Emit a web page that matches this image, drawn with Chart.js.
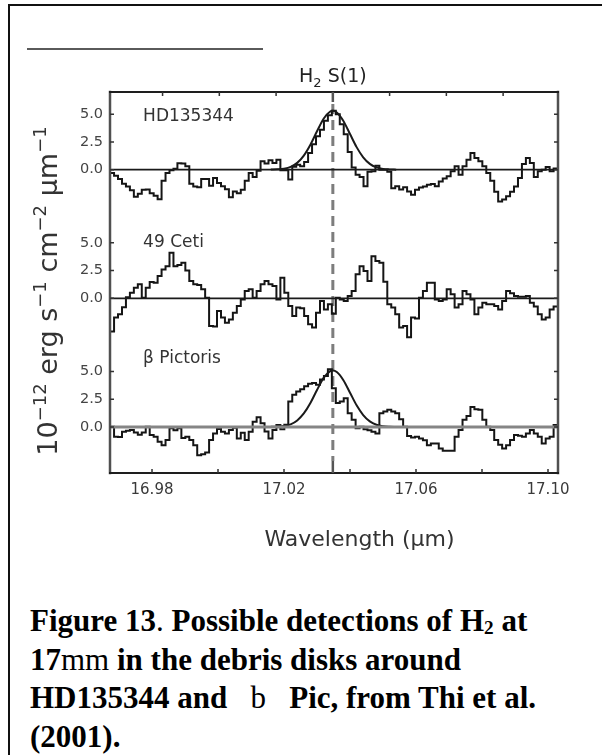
<!DOCTYPE html>
<html>
<head>
<meta charset="utf-8">
<script src="https://cdn.jsdelivr.net/npm/chart.js@4.4.1/dist/chart.umd.min.js"></script>
<style>
  html, body { margin: 0; padding: 0; background: #fff; }
  body { width: 602px; height: 755px; position: relative; overflow: hidden; }
  #frameTop { position: absolute; left: 9px; top: 4px; width: 593px; height: 2px; background: #111; }
  #frameLeft { position: absolute; left: 8px; top: 4px; width: 2px; height: 751px; background: #111; }
  #rule { position: absolute; left: 27px; top: 48px; width: 236px; height: 2px; background: #5a5a5a; }
  #wrap { position: absolute; left: 0; top: 0; width: 602px; height: 580px; }
  #caption {
    position: absolute; left: 30px; top: 602px;
    font-family: "Liberation Serif", "Times New Roman", serif;
    font-weight: bold; font-size: 31px; line-height: 38.5px; color: #000; white-space: nowrap;
  }
  #caption .n { font-weight: normal; }
  #caption sub { font-size: 0.62em; vertical-align: -0.18em; line-height: 0; }
</style>
</head>
<body>
<div id="frameTop"></div>
<div id="frameLeft"></div>
<div id="rule"></div>
<div id="wrap"><canvas id="spectra"></canvas></div>
<div id="caption">Figure 13<span class="n">.</span> Possible detections of H<sub>2</sub> at<br>17<span class="n">mm</span> in the debris disks around<br>HD135344 and&nbsp;&nbsp; <span class="n">b</span>&nbsp;&nbsp; Pic, from Thi et al.<br>(2001).</div>

<script>
// Wavelength grid of the spectra (µm)
const wavelength = [
  16.9673, 16.9685, 16.9697, 16.9709, 16.9721, 16.9733, 16.9745, 16.9757, 16.9769, 16.9781,
  16.9793, 16.9805, 16.9817, 16.9829, 16.9841, 16.9853, 16.9865, 16.9877, 16.9889, 16.9901,
  16.9913, 16.9925, 16.9937, 16.9949, 16.9961, 16.9973, 16.9985, 16.9997, 17.0009, 17.0021,
  17.0033, 17.0045, 17.0057, 17.0069, 17.0081, 17.0093, 17.0105, 17.0117, 17.0129, 17.0141,
  17.0153, 17.0165, 17.0177, 17.0189, 17.0201, 17.0213, 17.0225, 17.0237, 17.0249, 17.0261,
  17.0273, 17.0285, 17.0297, 17.0309, 17.0321, 17.0333, 17.0345, 17.0357, 17.0369, 17.0381,
  17.0393, 17.0405, 17.0417, 17.0429, 17.0441, 17.0453, 17.0465, 17.0477, 17.0489, 17.0501,
  17.0513, 17.0525, 17.0537, 17.0549, 17.0561, 17.0573, 17.0585, 17.0597, 17.0609, 17.0621,
  17.0633, 17.0645, 17.0657, 17.0669, 17.0681, 17.0693, 17.0705, 17.0717, 17.0729, 17.0741,
  17.0753, 17.0765, 17.0777, 17.0789, 17.0801, 17.0813, 17.0825, 17.0837, 17.0849, 17.0861,
  17.0873, 17.0885, 17.0897, 17.0909, 17.0921, 17.0933, 17.0945, 17.0957, 17.0969, 17.0981,
  17.0993, 17.1005, 17.1017, 17.1029
];

// Flux density, 10^-12 erg s^-1 cm^-2 µm^-1
const fluxHD135344 = [
  -0.30, -0.55, -0.85, -1.27, -1.52, -1.85, -2.45, -2.18, -1.82, -1.80,
  -2.12, -2.36, -2.67, -1.00, -0.30, -0.05, 0.08, 0.58, 0.55, 0.30,
  -1.27, -1.52, -1.58, -0.85, -0.85, -1.45, -0.76, -1.21, -1.50, -1.76,
  -2.48, -1.97, -2.12, -1.82, -1.00, -0.30, -0.67, -0.10, 0.76, 0.55,
  0.85, 0.60, 0.90, -0.05, -0.05, -0.90, 0.25, 0.45, 0.30, 0.70,
  1.50, 2.30, 3.00, 3.60, 4.40, 4.90, 5.30, 5.00, 4.10, 3.20,
  1.60, 0.20, -0.45, -0.67, -1.50, -0.20, -0.15, 0.36, 0.00, 0.00,
  -0.20, -1.67, -1.50, -1.80, -1.58, -1.97, -2.27, -1.82, -1.60, -1.52,
  -1.36, -1.30, -1.50, -1.06, -0.80, -0.60, -0.15, 0.30, -0.45, 0.30,
  0.90, 1.50, 1.06, 0.76, 0.30, -0.30, -1.00, -2.00, -2.88, -2.70,
  -2.40, -2.00, -1.52, -0.76, 0.50, 1.06, 0.60, -0.67, -0.15, 0.00,
  0.24, -0.15, 0.10, 0.10
];

const flux49Ceti = [
  -3.00, -1.74, -1.44, -0.80, 0.10, 0.50, 0.96, 1.26, 0.05, 0.96,
  1.47, 1.40, 2.00, 2.60, 2.90, 4.10, 2.90, 3.00, 3.20, 2.50,
  1.56, 1.26, 1.20, 0.81, 0.06, -2.50, -2.55, -1.14, -1.74, -2.20,
  -1.90, -1.30, -0.70, -0.10, 0.66, 0.81, 0.06, 0.66, 1.26, 1.56,
  1.26, 1.10, -0.10, 1.86, 0.50, -0.70, -1.60, -0.84, -0.90, -1.60,
  -2.34, -2.64, -1.30, -0.24, -1.00, -0.54, -1.40, 0.06, -0.10, -0.24,
  0.20, 0.66, 2.16, 2.90, 2.46, 1.56, 3.80, 3.36, 3.20, 1.50,
  -0.54, -0.84, -1.44, -2.64, -2.50, -3.50, -1.74, -1.83, 0.06, 0.66,
  1.41, 1.41, -0.10, -0.24, -0.10, 0.81, 0.36, -0.84, -0.54, 0.66,
  0.36, -0.10, -1.44, -0.84, -0.40, -0.54, -0.54, -0.70, -1.00, -0.24,
  0.66, 0.45, 0.20, 0.15, 0.15, 0.20, -0.40, -0.75, -1.44, -1.90,
  -1.74, -1.00, -0.75, -0.75
];

const fluxBetaPic = [
  0.03, -0.88, -0.90, -0.42, -0.35, -0.27, -0.50, -0.70, -0.50, 0.03,
  -0.73, -0.88, -1.33, -1.64, -1.18, -0.12, -0.30, -0.12, -1.00, -0.88,
  -1.18, -1.64, -2.55, -2.45, -2.30, -1.18, -0.58, -0.18, -0.42, -0.58,
  -0.27, -0.06, -1.03, -0.52, -1.18, -0.42, 0.48, 0.88, 0.33, -0.40,
  -1.03, -0.27, 0.18, -0.21, 0.20, 2.30, 2.90, 3.20, 3.40, 3.67,
  3.90, 3.97, 3.80, 4.27, 4.60, 5.20, 3.50, 2.15, 2.30, 2.60,
  1.24, 0.64, -0.12, 0.03, -0.20, -0.30, -0.42, -0.58, 1.24, 1.40,
  1.55, 1.40, 1.24, 0.70, 0.03, -0.82, -0.94, -0.88, -1.03, -1.20,
  -1.64, -1.50, -1.48, -1.94, -2.15, -2.15, -2.15, -0.88, -0.27, 0.64,
  1.00, 1.79, 1.60, 1.55, 0.64, 0.03, -0.27, -1.18, -1.60, -1.94,
  -1.64, -1.18, -0.73, -0.80, -0.88, -0.58, -0.27, -0.58, -0.88, -1.48,
  -1.03, -0.88, 0.18, 0.18
];

// Gaussian line fits
const fitWavelength = [
  17.016, 17.018, 17.020, 17.022, 17.024, 17.026, 17.028, 17.030, 17.032, 17.034,
  17.0348, 17.036, 17.038, 17.040, 17.042, 17.044, 17.046, 17.048, 17.050, 17.052, 17.054
];
const fitHD135344 = [
  0.01, 0.03, 0.09, 0.25, 0.61, 1.27, 2.25, 3.46, 4.59, 5.24,
  5.30, 5.16, 4.39, 3.21, 2.03, 1.11, 0.52, 0.21, 0.07, 0.02, 0.00
];
const fitBetaPic = [
  0.01, 0.03, 0.09, 0.24, 0.59, 1.22, 2.16, 3.33, 4.42, 5.04,
  5.10, 4.96, 4.22, 3.09, 1.95, 1.07, 0.50, 0.20, 0.07, 0.02, 0.00
];

// Panels (top to bottom) and their vertical offsets on the shared axis
const panelNames = ['HD135344', '49 Ceti', 'β Pictoris'];
const panelOffsets = [23.2, 11.6, 0];
const panelLabelLift = [4.8, 5.0, 6.2];

const yTickValues = [0, 2.5, 5];
const xTickValues = [16.98, 17.00, 17.02, 17.04, 17.06, 17.08, 17.10];
const xTickLabels = ['16.98', '', '17.02', '', '17.06', '', '17.10'];
const topTickValues = [16.9832, 17.0004, 17.0176, 17.0520, 17.0692, 17.0864];
const lineCentre = 17.0348;   // H2 S(1)
const xRange = [16.96727, 17.10303];
const yRange = [-4.15, 30.2];

const FONT = '"DejaVu Sans", "Liberation Sans", sans-serif';

const shifted = (xs, ys, off) => xs.map((w, i) => ({ x: w, y: ys[i] + off }));
const flat = off => [{ x: xRange[0], y: off }, { x: xRange[1], y: off }];

const allYTicks = [];
panelOffsets.forEach(off => yTickValues.forEach(v => allYTicks.push({ off, v })));

const datasets = [
  { data: flat(panelOffsets[0]), borderColor: '#1a1a1a', borderWidth: 1.7 },
  { data: flat(panelOffsets[1]), borderColor: '#1a1a1a', borderWidth: 1.7 },
  { data: flat(panelOffsets[2]), borderColor: '#858585', borderWidth: 3 },
  { data: shifted(fitWavelength, fitHD135344, panelOffsets[0]), borderColor: '#1a1a1a', borderWidth: 2, cubicInterpolationMode: 'monotone' },
  { data: shifted(fitWavelength, fitBetaPic, panelOffsets[2]), borderColor: '#1a1a1a', borderWidth: 2, cubicInterpolationMode: 'monotone' },
  { data: shifted(wavelength, fluxHD135344, panelOffsets[0]), borderColor: '#151515', borderWidth: 2, stepped: true },
  { data: shifted(wavelength, flux49Ceti, panelOffsets[1]), borderColor: '#151515', borderWidth: 2, stepped: true },
  { data: shifted(wavelength, fluxBetaPic, panelOffsets[2]), borderColor: '#151515', borderWidth: 2, stepped: true }
].map(d => Object.assign({ pointRadius: 0, fill: false, parsing: false }, d));

// Draws a run of text pieces, some raised or lowered, centred on x = 0 of the current transform
function drawRuns(ctx, runs, baseY) {
  let total = 0;
  runs.forEach(r => { ctx.font = r.size + 'px ' + FONT; r.w = ctx.measureText(r.t).width; total += r.w; });
  let cx = -total / 2;
  runs.forEach(r => {
    ctx.font = r.size + 'px ' + FONT;
    ctx.fillText(r.t, cx, baseY + (r.dy || 0));
    cx += r.w;
  });
}

const decor = {
  id: 'decor',
  beforeDatasetsDraw(chart) {
    const { ctx, chartArea: a, scales: { x } } = chart;
    const lx = x.getPixelForValue(lineCentre);
    ctx.save();
    ctx.strokeStyle = '#7d7d7d';
    ctx.lineWidth = 3;
    ctx.setLineDash([10, 6]);
    ctx.beginPath();
    ctx.moveTo(lx, a.top + 12);
    ctx.lineTo(lx, a.bottom - 12);
    ctx.stroke();
    ctx.restore();
  },
  afterDatasetsDraw(chart) {
    const { ctx, chartArea: a, scales: { x, y } } = chart;
    const lx = x.getPixelForValue(lineCentre);
    ctx.save();

    // axes box
    ctx.lineCap = 'square';
    ctx.strokeStyle = '#505050';
    ctx.lineWidth = 2.5;
    ctx.beginPath();
    ctx.moveTo(a.left, a.top); ctx.lineTo(a.left, a.bottom);
    ctx.moveTo(a.right, a.top); ctx.lineTo(a.right, a.bottom);
    ctx.stroke();
    ctx.strokeStyle = '#1e1e1e';
    ctx.lineWidth = 2;
    ctx.beginPath();
    ctx.moveTo(a.left, a.top); ctx.lineTo(a.right, a.top);
    ctx.moveTo(a.left, a.bottom); ctx.lineTo(a.right, a.bottom);
    ctx.stroke();

    // inward tick marks
    ctx.lineCap = 'butt';
    ctx.lineWidth = 1.5;
    ctx.strokeStyle = '#333';
    ctx.beginPath();
    xTickValues.forEach(v => {
      const px = x.getPixelForValue(v);
      ctx.moveTo(px, a.bottom); ctx.lineTo(px, a.bottom - 4);
    });
    topTickValues.forEach(v => {
      const px = x.getPixelForValue(v);
      ctx.moveTo(px, a.top); ctx.lineTo(px, a.top + 4);
    });
    allYTicks.forEach(t => {
      const py = y.getPixelForValue(t.off + t.v);
      ctx.moveTo(a.left, py); ctx.lineTo(a.left + 4, py);
      ctx.moveTo(a.right, py); ctx.lineTo(a.right - 4, py);
    });
    ctx.stroke();
    ctx.strokeStyle = '#555';
    ctx.lineWidth = 2.5;
    ctx.beginPath();
    ctx.moveTo(lx, a.top); ctx.lineTo(lx, a.top + 10);
    ctx.moveTo(lx, a.bottom); ctx.lineTo(lx, a.bottom - 12);
    ctx.stroke();

    // panel names
    ctx.fillStyle = '#333';
    ctx.textBaseline = 'middle';
    ctx.textAlign = 'left';
    ctx.font = '17px ' + FONT;
    panelNames.forEach((name, i) => {
      ctx.fillText(name, x.getPixelForValue(16.9773), y.getPixelForValue(panelOffsets[i] + panelLabelLift[i]));
    });

    // line identification above the box
    ctx.textBaseline = 'alphabetic';
    ctx.fillStyle = '#222';
    ctx.save();
    ctx.translate(lx, 0);
    drawRuns(ctx, [
      { t: 'H', size: 19 },
      { t: '2', size: 13, dy: 5 },
      { t: ' S(1)', size: 19 }
    ], 82);
    ctx.restore();

    // x-axis title
    ctx.fillStyle = '#333';
    ctx.save();
    ctx.translate(359.5, 0);
    drawRuns(ctx, [{ t: 'Wavelength (µm)', size: 22 }], 546);
    ctx.restore();

    // y-axis title, rotated
    ctx.save();
    ctx.translate(47, 291);
    ctx.rotate(-Math.PI / 2);
    drawRuns(ctx, [
      { t: '10', size: 27 },
      { t: '−12', size: 18, dy: -11 },
      { t: ' erg s', size: 27 },
      { t: '−1', size: 18, dy: -11 },
      { t: ' cm', size: 27 },
      { t: '−2', size: 18, dy: -11 },
      { t: ' µm', size: 27 },
      { t: '−1', size: 18, dy: -11 }
    ], 10);
    ctx.restore();

    ctx.restore();
  }
};

new Chart(document.getElementById('spectra'), {
  type: 'line',
  data: { datasets },
  options: {
    responsive: true,
    maintainAspectRatio: false,
    animation: false,
    devicePixelRatio: 1,
    layout: { padding: { top: 92, right: 44, left: 0, bottom: 0 } },
    plugins: { legend: { display: false }, tooltip: { enabled: false } },
    scales: {
      x: {
        type: 'linear',
        min: xRange[0],
        max: xRange[1],
        grid: { display: false, drawTicks: false },
        border: { display: false },
        afterBuildTicks: s => { s.ticks = xTickValues.map(v => ({ value: v })); },
        afterFit: s => { s.height = 107; },
        ticks: {
          autoSkip: false,
          maxRotation: 0,
          padding: 8,
          color: '#3a3a3a',
          font: { family: FONT, size: 15 },
          callback: (v, i) => xTickLabels[i]
        }
      },
      y: {
        type: 'linear',
        min: yRange[0],
        max: yRange[1],
        grid: { display: false, drawTicks: false },
        border: { display: false },
        afterBuildTicks: s => { s.ticks = allYTicks.map(t => ({ value: t.off + t.v })); },
        afterFit: s => { s.width = 110; },
        ticks: {
          autoSkip: false,
          padding: 7,
          color: '#444',
          font: { family: FONT, size: 14.5 },
          callback: (v, i) => allYTicks[i].v.toFixed(1)
        }
      }
    }
  },
  plugins: [decor]
});
</script>
</body>
</html>
